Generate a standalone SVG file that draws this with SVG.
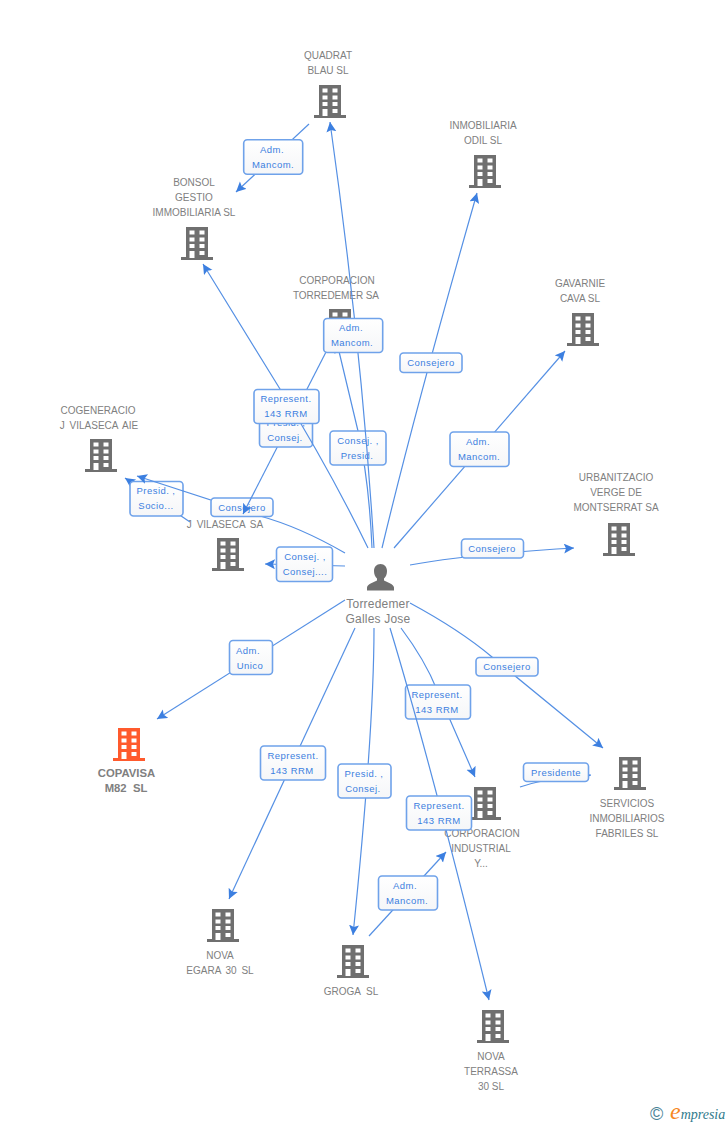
<svg xmlns="http://www.w3.org/2000/svg" width="728" height="1125" viewBox="0 0 728 1125">
<style>
text{font-family:"Liberation Sans",Arial,sans-serif}
.n{font-size:10px;fill:#808080;text-anchor:middle}
.w{word-spacing:2px}
.p{font-size:12px;letter-spacing:.2px;fill:#808080;text-anchor:middle}
.c{font-size:11.300px;font-weight:bold;fill:#808080;text-anchor:middle;white-space:pre}
.l{font-size:9.500px;letter-spacing:.45px;fill:#3c7fe0;text-anchor:middle}
.e{fill:none;stroke:#5590e4;stroke-width:1.200;marker-end:url(#a)}
.b{fill:url(#g);stroke:#6fa2ea;stroke-width:1.600}
</style>
<defs>
<linearGradient id="g" x1="0" y1="0" x2="0" y2="1"><stop offset="0" stop-color="#fff"/><stop offset="1" stop-color="#f5f6f8"/></linearGradient>
<marker id="a" markerUnits="userSpaceOnUse" markerWidth="12" markerHeight="12" refX="10" refY="5" orient="auto"><path d="M0 0L10 5L0 10L2 5Z" fill="#3c7fe0"/></marker>
<g id="bd"><path d="M-11 0H11V30H16V33H-16V30H-11Z"/><g fill="#fff"><rect x="-7.500" y="3.500" width="5" height="4"/><rect x="2.500" y="3.500" width="5" height="4"/><rect x="-7.500" y="10.500" width="5" height="4"/><rect x="2.500" y="10.500" width="5" height="4"/><rect x="-7.500" y="17" width="5" height="4"/><rect x="2.500" y="17" width="5" height="4"/><rect x="-7.500" y="24" width="5" height="7"/><rect x="2.500" y="24" width="5" height="4"/></g></g>
</defs>
<rect width="728" height="1125" fill="#fff"/>
<g id="nodes">
<g id="quadrat" fill="#6f6f6f"><use href="#bd" x="330" y="85"/><text class="n" x="328" y="59">QUADRAT</text><text class="n" x="328" y="74">BLAU SL</text></g>
<g id="inmobiliaria" fill="#6f6f6f"><use href="#bd" x="485" y="155"/><text class="n" x="483" y="129">INMOBILIARIA</text><text class="n" x="483" y="144">ODIL SL</text></g>
<g id="bonsol" fill="#6f6f6f"><use href="#bd" x="197" y="227"/><text class="n" x="194" y="186">BONSOL</text><text class="n" x="194" y="201">GESTIO</text><text class="n" x="194" y="216">IMMOBILIARIA SL</text></g>
<g id="torredemer" fill="#6f6f6f"><use href="#bd" x="340" y="309"/><text class="n" x="337" y="284">CORPORACION</text><text class="n" x="336" y="299" textLength="86">TORREDEMER SA</text></g>
<g id="gavarnie" fill="#6f6f6f"><use href="#bd" x="583" y="313"/><text class="n" x="580" y="287">GAVARNIE</text><text class="n" x="580" y="302">CAVA SL</text></g>
<g id="cogeneracio" fill="#6f6f6f"><use href="#bd" x="101" y="439"/><text class="n" x="98" y="414">COGENERACIO</text><text class="n w" x="99" y="429">J VILASECA AIE</text></g>
<g id="jvilaseca" fill="#6f6f6f"><use href="#bd" x="228" y="538"/><text class="n w" x="225" y="528">J VILASECA SA</text></g>
<g id="urbanitzacio" fill="#6f6f6f"><use href="#bd" x="619" y="523"/><text class="n" x="616" y="481">URBANITZACIO</text><text class="n" x="616" y="496">VERGE DE</text><text class="n" x="616" y="511">MONTSERRAT SA</text></g>
<g id="copavisa" fill="#ff5a2d"><use href="#bd" x="129" y="728"/><text class="c" x="126.500" y="777">COPAVISA</text><text class="c" x="126" y="792">M82  SL</text></g>
<g id="servicios" fill="#6f6f6f"><use href="#bd" x="630" y="757"/><text class="n" x="627" y="807">SERVICIOS</text><text class="n" x="627" y="822">INMOBILIARIOS</text><text class="n" x="627" y="837">FABRILES SL</text></g>
<g id="corpindustrial" fill="#6f6f6f"><use href="#bd" x="485" y="787"/><text class="n" x="482" y="837">CORPORACION</text><text class="n" x="481" y="852">INDUSTRIAL</text><text class="n" x="481" y="867">Y...</text></g>
<g id="novaegara" fill="#6f6f6f"><use href="#bd" x="223" y="909"/><text class="n" x="220" y="959">NOVA</text><text class="n w" x="220" y="974">EGARA 30 SL</text></g>
<g id="groga" fill="#6f6f6f"><use href="#bd" x="353" y="945"/><text class="n" x="351" y="995" style="white-space:pre">GROGA  SL</text></g>
<g id="novaterrassa" fill="#6f6f6f"><use href="#bd" x="493" y="1010"/><text class="n" x="491" y="1060">NOVA</text><text class="n" x="491" y="1075">TERRASSA</text><text class="n" x="491" y="1090">30 SL</text></g>
<g id="person"><path d="M380.500 564c-4 0-6.500 3-6.500 7 0 3 1 5.500 3 7.500v2c-4 2-9.500 3.500-10 7v3h27v-3c-.5-3.500-6-5-10-7v-2c2-2 3-4.500 3-7.500 0-4-2.500-7-6.500-7z" fill="#6f6f6f"/><text class="p" x="378" y="608">Torredemer</text><text class="p" x="378" y="623">Galles Jose</text></g>
</g>
<g id="connectors">
<g><path class="e" d="M309 124L236 192"/><rect class="b" x="243.700" y="139.700" width="59" height="34.500" rx="3.500"/><text class="l" x="272" y="153">Adm.</text><text class="l" x="273" y="168">Mancom.</text></g>
<g><path class="e" d="M382 548Q415 410 477 193"/><rect class="b" x="400" y="353" width="62" height="19.500" rx="3.500"/><text class="l" x="431" y="366">Consejero</text></g>
<g><path class="e" d="M394 548L565 351"/><rect class="b" x="450" y="432" width="59" height="34.500" rx="3.500"/><text class="l" x="478" y="445">Adm.</text><text class="l" x="479" y="460">Mancom.</text></g>
<g><path class="e" d="M410 565Q470 554 574 548"/><rect class="b" x="461.500" y="539" width="62" height="19" rx="3.500"/><text class="l" x="492" y="552">Consejero</text></g>
<g><path class="e" d="M345 566L265 564"/><rect class="b" x="276.500" y="547" width="56" height="34.500" rx="3.500"/><text class="l" x="305" y="560">Consej. ,</text><text class="l" x="305" y="575">Consej....</text></g>
<g><path class="e" d="M190 522L125 478"/><rect class="b" x="130" y="481.500" width="53" height="34.500" rx="3.500"/><text class="l" x="156" y="494">Presid. ,</text><text class="l" x="156" y="509">Socio...</text></g>
<g><path class="e" d="M345 553Q300 527 260 516L137 476"/><rect class="b" x="211" y="498" width="62" height="18.500" rx="3.500"/><text class="l" x="242" y="511">Consejero</text></g>
<g><path class="e" d="M372 548Q369 480 358 431L337 343"/><rect class="b" x="330" y="431" width="56" height="34" rx="3.500"/><text class="l" x="358" y="444">Consej. ,</text><text class="l" x="357" y="459">Presid.</text></g>
<g><path class="e" d="M374 548Q362 350 330 122"/></g>
<g><path class="e" d="M326 352L243 514"/><rect class="b" x="259.500" y="413" width="53" height="34" rx="3.500"/><text class="l" x="286" y="426">Presid. ,</text><text class="l" x="285" y="441">Consej.</text></g>
<g><path class="e" d="M368 548Q330 470 280 389L203 264"/><rect class="b" x="254" y="389.500" width="65" height="34" rx="3.500"/><text class="l" x="286" y="402">Represent.</text><text class="l" x="286" y="417">143 RRM</text></g>
<g><rect class="b" x="323.700" y="318.500" width="59" height="34" rx="3.500"/><text class="l" x="351" y="331">Adm.</text><text class="l" x="352" y="346">Mancom.</text></g>
<g><path class="e" d="M345 600L157 719"/><rect class="b" x="229.500" y="640.500" width="43" height="34" rx="3.500"/><text class="l" x="248" y="654">Adm.</text><text class="l" x="250" y="669">Unico</text></g>
<g><path class="e" d="M355 628L229 899"/><rect class="b" x="260.500" y="746" width="65" height="34" rx="3.500"/><text class="l" x="293" y="759">Represent.</text><text class="l" x="292" y="774">143 RRM</text></g>
<g><path class="e" d="M374 628Q374 730 353 935"/><rect class="b" x="338" y="764" width="53" height="34" rx="3.500"/><text class="l" x="364" y="777">Presid. ,</text><text class="l" x="363" y="792">Consej.</text></g>
<g><path class="e" d="M401 628Q425 660 437 690L475 777"/><rect class="b" x="405.500" y="685" width="65" height="34" rx="3.500"/><text class="l" x="437" y="698">Represent.</text><text class="l" x="437" y="713">143 RRM</text></g>
<g><path class="e" d="M390 628Q430 760 489 1000"/><rect class="b" x="406.500" y="796" width="65" height="34" rx="3.500"/><text class="l" x="439" y="809">Represent.</text><text class="l" x="439" y="824">143 RRM</text></g>
<g><path class="e" d="M410 603Q460 630 492 657L603 748"/><rect class="b" x="476" y="657.500" width="62" height="18.500" rx="3.500"/><text class="l" x="507" y="670">Consejero</text></g>
<g><path class="e" d="M520 787Q540 780 556 780L591 775"/><rect class="b" x="523.500" y="763" width="65" height="18.500" rx="3.500"/><text class="l" x="556" y="776">Presidente</text></g>
<g><path class="e" d="M369 936L446 852"/><rect class="b" x="378.500" y="876" width="59" height="34" rx="3.500"/><text class="l" x="405" y="889">Adm.</text><text class="l" x="407" y="904">Mancom.</text></g>
</g>
<g id="logo"><text x="650" y="1120" font-size="18" fill="#4a8296">©</text><text x="670" y="1119" font-size="14" font-style="italic" fill="#2f7a8c" style="font-family:'Liberation Serif',serif"><tspan font-size="24" fill="#f7881f">e</tspan>mpresia</text></g>
</svg>
